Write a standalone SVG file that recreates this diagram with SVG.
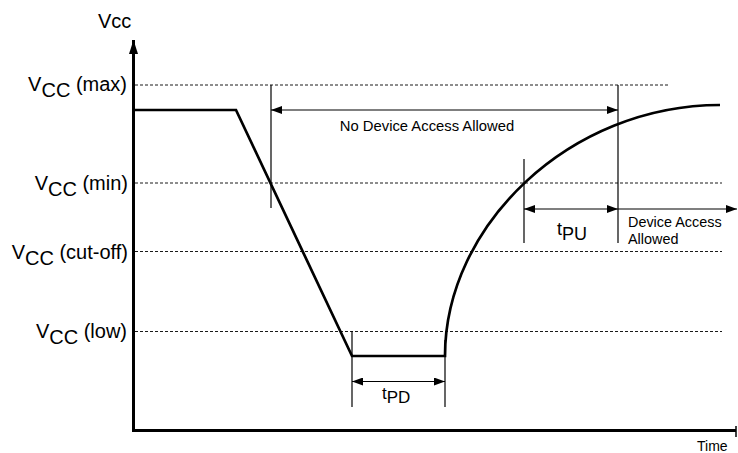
<svg xmlns="http://www.w3.org/2000/svg" width="738" height="453" viewBox="0 0 738 453">
<defs>
<marker id="ah" viewBox="0 0 11 8" refX="11" refY="4" markerWidth="11" markerHeight="8" markerUnits="userSpaceOnUse" orient="auto-start-reverse">
<path d="M0,0 L11,4 L0,8 Z" fill="#000"/>
</marker>
<marker id="axh" viewBox="0 0 14 9" refX="14" refY="4.5" markerWidth="14" markerHeight="9" markerUnits="userSpaceOnUse" orient="auto">
<path d="M0,0 L14,4.5 L0,9 Z" fill="#000"/>
</marker>
</defs>
<style>
text{font-family:"Liberation Sans",Arial,sans-serif;fill:#000}
.lbl{font-size:20px;text-anchor:end}
.dash{stroke:#000;stroke-width:0.9;stroke-dasharray:3,2;fill:none}
.mark{stroke:#000;stroke-width:1.2;fill:none}
.dim{stroke:#000;stroke-width:1.2;fill:none}
.axis{stroke:#000;stroke-width:3;fill:none}
.wave{stroke:#000;stroke-width:2.7;fill:none;stroke-linejoin:miter}
</style>
<rect width="738" height="453" fill="#fff"/>
<g id="levels">
<line class="dash" x1="135" y1="85" x2="670" y2="85"/>
<line class="dash" x1="135" y1="183" x2="722" y2="183"/>
<line class="dash" x1="135" y1="251.5" x2="722" y2="251.5"/>
<line class="dash" x1="135" y1="331.5" x2="722" y2="331.5"/>
</g>
<g id="axes">
<line class="axis" x1="133.5" y1="432" x2="133.5" y2="40" marker-end="url(#axh)"/>
<line class="axis" x1="132" y1="430.5" x2="736" y2="430.5"/>
<line stroke="#000" stroke-width="1.5" x1="736" y1="426" x2="736" y2="437"/>
<text x="98" y="28" style="font-size:20px">Vcc</text>
<text x="697" y="451" style="font-size:14px">Time</text>
</g>
<g id="labels">
<text class="lbl" x="127" y="91">V<tspan dy="6">CC</tspan><tspan dy="-6"> (max)</tspan></text>
<text class="lbl" x="128" y="190">V<tspan dy="6">CC</tspan><tspan dy="-6"> (min)</tspan></text>
<text class="lbl" x="128" y="259">V<tspan dy="6">CC</tspan><tspan dy="-6"> (cut-off)</tspan></text>
<text class="lbl" x="127" y="338">V<tspan dy="6">CC</tspan><tspan dy="-6"> (low)</tspan></text>
</g>
<g id="waveform">
<path class="wave" d="M133,110 L236,110 L352,356 L445,356 C445,225 570,105 720,105"/>
</g>
<g id="connectors">
<line class="mark" x1="271" y1="85" x2="271" y2="208"/>
<line class="mark" x1="618" y1="85" x2="618" y2="243"/>
<line class="mark" x1="524" y1="159" x2="524" y2="243"/>
<line class="mark" x1="352" y1="331" x2="352" y2="407"/>
<line class="mark" x1="445" y1="340" x2="445" y2="407"/>
<line class="dim" x1="271" y1="110" x2="618" y2="110" marker-start="url(#ah)" marker-end="url(#ah)"/>
<line class="dim" x1="524" y1="209" x2="618" y2="209" marker-start="url(#ah)" marker-end="url(#ah)"/>
<line class="dim" x1="618" y1="209" x2="737" y2="209" marker-end="url(#ah)"/>
<line class="dim" x1="352" y1="381.5" x2="445" y2="381.5" marker-start="url(#ah)" marker-end="url(#ah)"/>
</g>
<g id="annotations">
<text x="427" y="131" style="font-size:14.8px" text-anchor="middle">No Device Access Allowed</text>
<text x="628" y="227" style="font-size:14.4px">Device Access</text>
<text x="628" y="244" style="font-size:14.4px">Allowed</text>
<text x="557" y="235" style="font-size:18px">t<tspan dy="5">PU</tspan></text>
<text x="382" y="399" style="font-size:17px">t<tspan dy="4">PD</tspan></text>
</g>
</svg>
